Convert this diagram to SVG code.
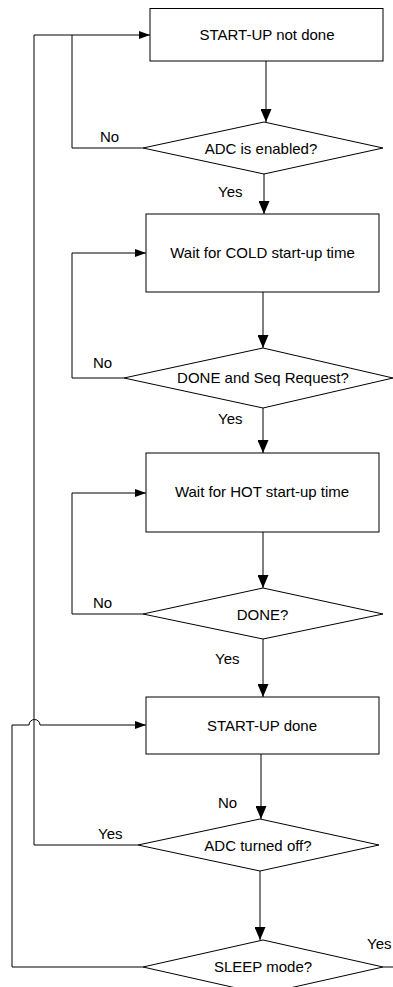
<svg xmlns="http://www.w3.org/2000/svg" width="393" height="987" viewBox="0 0 393 987">
<style>
.s{fill:#fff;stroke:#000;stroke-width:1}
.c{fill:none;stroke:#000;stroke-width:1}
text{font-family:"Liberation Sans",Arial,sans-serif;font-size:15px;fill:#000}
.m{text-anchor:middle}
</style>
<defs>
<marker id="big" markerUnits="userSpaceOnUse" markerWidth="13" markerHeight="11" refX="13" refY="5.5" orient="auto"><path d="M0,0 L13,5.5 L0,11 z" fill="#000"/></marker>
<marker id="sm" markerUnits="userSpaceOnUse" markerWidth="11" markerHeight="8" refX="11" refY="4" orient="auto"><path d="M0,0 L11,4 L0,8 z" fill="#000"/></marker>
</defs>
<rect width="393" height="987" fill="#fff"/>
<g id="connectors">
<path class="c" d="M266,61 V122" marker-end="url(#big)"/>
<path class="c" d="M143,148 H72 V35 H150" marker-end="url(#sm)"/>
<path class="c" d="M138,845 H34 V35 H72"/>
<path class="c" d="M264,174 V214" marker-end="url(#big)"/>
<path class="c" d="M263,292 V348" marker-end="url(#big)"/>
<path class="c" d="M124,378 H72 V253 H146" marker-end="url(#sm)"/>
<path class="c" d="M263,408 V453" marker-end="url(#big)"/>
<path class="c" d="M263,532 V588" marker-end="url(#big)"/>
<path class="c" d="M143,614 H72 V493 H146" marker-end="url(#sm)"/>
<path class="c" d="M263,639 V697" marker-end="url(#big)"/>
<path class="c" d="M261,754 V819" marker-end="url(#big)"/>
<path class="c" d="M260,871 V940" marker-end="url(#big)"/>
<path class="c" d="M143,967 H12 V725 H29 A5.5,5.5 0 0 1 40,725 H146" marker-end="url(#sm)"/>
<path class="c" d="M383,967 H393"/>
<text x="100" y="142">No</text>
<text x="218" y="197">Yes</text>
<text x="93" y="368">No</text>
<text x="218" y="424">Yes</text>
<text x="93" y="608">No</text>
<text x="215" y="664">Yes</text>
<text x="218" y="808">No</text>
<text x="98" y="839">Yes</text>
<text x="367" y="949">Yes</text>
</g>
<g id="start_not_done"><rect class="s" x="150" y="8.5" width="233" height="52.5"/><text class="m" x="267" y="40">START-UP not done</text></g>
<g id="adc_enabled"><polygon class="s" points="264,122 383,148 264,174 143,148"/><text class="m" x="261" y="153.5">ADC is enabled?</text></g>
<g id="wait_cold"><rect class="s" x="146" y="214" width="233" height="78"/><text class="m" x="262.5" y="258">Wait for COLD start-up time</text></g>
<g id="done_seq"><polygon class="s" points="263,348 393,378 263,408 124,378"/><text class="m" x="263" y="383">DONE and Seq Request?</text></g>
<g id="wait_hot"><rect class="s" x="146" y="453" width="233" height="79"/><text class="m" x="262" y="497">Wait for HOT start-up time</text></g>
<g id="done"><polygon class="s" points="263,588 383,614 263,639 143,614"/><text class="m" x="262.5" y="619.5">DONE?</text></g>
<g id="start_done"><rect class="s" x="146" y="697" width="233" height="57"/><text class="m" x="262" y="730.5">START-UP done</text></g>
<g id="adc_off"><polygon class="s" points="260,819 379,845 260,871 138,845"/><text class="m" x="258" y="850.5">ADC turned off?</text></g>
<g id="sleep"><polygon class="s" points="263,940 383,967 263,994 143,967"/><text class="m" x="263" y="972">SLEEP mode?</text></g>
</svg>
